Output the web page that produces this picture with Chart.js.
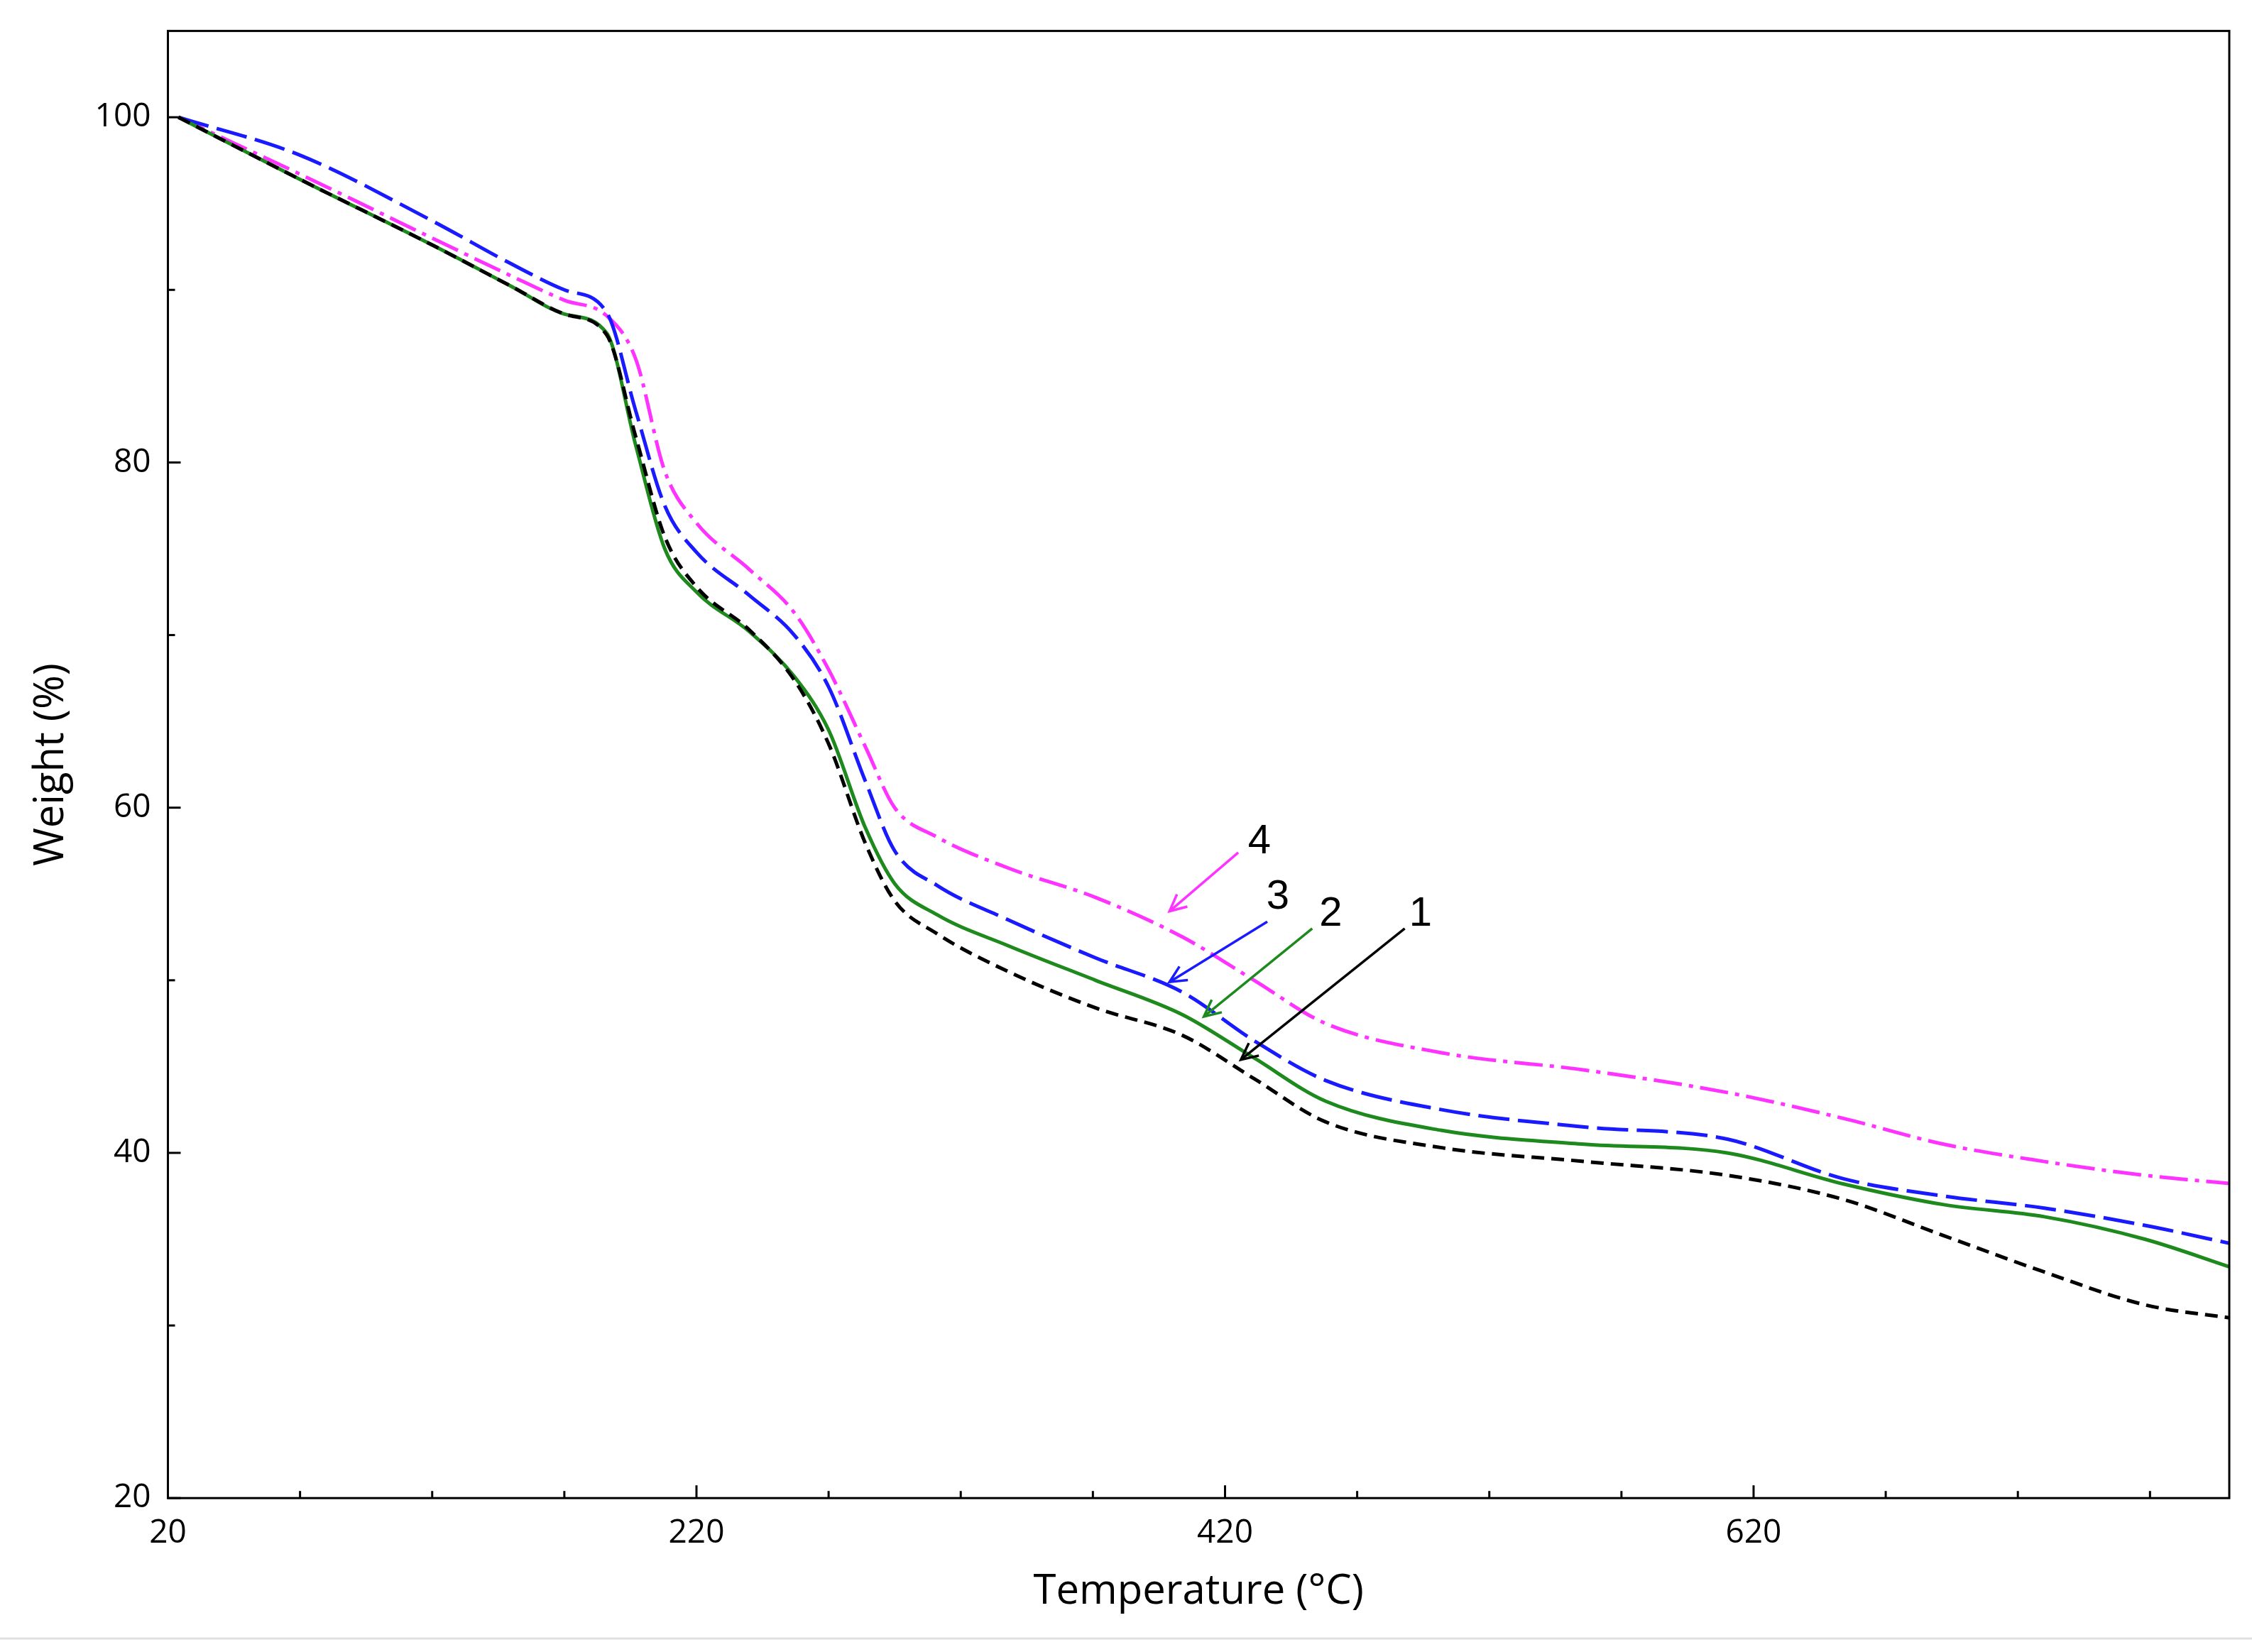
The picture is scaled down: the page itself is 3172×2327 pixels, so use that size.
<!DOCTYPE html>
<html>
<head>
<meta charset="utf-8">
<script src="https://cdn.jsdelivr.net/npm/chart.js@4.4.1/dist/chart.umd.min.js"></script>
<style>
  html, body { margin: 0; padding: 0; background: #fff; }
  #wrap { width: 3172px; height: 2327px; position: relative; }
</style>
</head>
<body>
<div id="wrap"><canvas id="c"></canvas></div>
<script>
const temps = [24, 70, 120, 150, 170, 186, 197, 208, 220, 240, 257, 270, 284, 295, 311, 338, 371, 404, 431, 458, 502, 556, 610, 654, 692, 730, 768, 802];

// Weight (%) for each sample
const sample1 = [100, 96.4, 92.6, 90.2, 88.6, 87.4, 81.5, 75.7, 72.8, 70.3, 67.4, 63.7, 57.9, 54.6, 52.7, 50.5, 48.4, 46.8, 44.3, 41.8, 40.3, 39.5, 38.7, 37.3, 35.2, 33.1, 31.2, 30.4];
const sample2 = [100, 96.4, 92.6, 90.2, 88.6, 87.5, 81, 75, 72.5, 70.2, 67.6, 64.5, 58.8, 55.6, 53.8, 52, 50, 48, 45.5, 43, 41.3, 40.5, 40, 38.2, 37, 36.3, 35, 33.3];
const sample3 = [100, 97.8, 94, 91.5, 90, 88.7, 83, 77.5, 74.8, 72.3, 70, 67, 61.5, 57.5, 55.5, 53.5, 51.3, 49.3, 46.5, 44.2, 42.5, 41.5, 40.8, 38.5, 37.5, 36.8, 35.8, 34.7];
const sample4 = [100, 96.7, 93, 90.8, 89.4, 88.5, 86, 79.5, 76.5, 73.8, 71.3, 68, 63.5, 60, 58.3, 56.5, 54.8, 52.5, 50, 47.5, 45.8, 44.8, 43.5, 42, 40.5, 39.5, 38.7, 38.2];

const xTicks = [20, 70, 120, 170, 220, 270, 320, 370, 420, 470, 520, 570, 620, 670, 720, 770];
const yTicks = [20, 30, 40, 50, 60, 70, 80, 90, 100];

// Arrow annotations: label, color, from [T, W], to [T, W], label position
const arrowLabels = ['4', '3', '2', '1'];
const arrowColors = ['#ff33ff', '#1a1aff', '#1e8a1e', '#000000'];
const arrowFrom = [[425, 57.4], [436, 53.4], [453, 53.0], [488, 53.0]];
const arrowTo = [[399, 54.0], [399, 49.9], [412, 47.9], [426, 45.4]];
const labelAt = [[433, 58.0], [440, 54.8], [460, 53.8], [494, 53.8]];

const pts = (ys) => temps.map((t, i) => ({ x: t, y: ys[i] }));

const frame = {
  id: 'frame',
  afterDraw(chart) {
    const { ctx, chartArea: a, scales: { x, y } } = chart;
    ctx.save();
    ctx.strokeStyle = '#000';
    ctx.lineWidth = 3;
    ctx.strokeRect(a.left, a.top, a.right - a.left, a.bottom - a.top);
    xTicks.forEach(v => {
      const px = x.getPixelForValue(v);
      const len = (v - 20) % 200 === 0 ? 18 : 10;
      ctx.beginPath(); ctx.moveTo(px, a.bottom); ctx.lineTo(px, a.bottom - len); ctx.stroke();
    });
    yTicks.forEach(v => {
      const py = y.getPixelForValue(v);
      const len = v % 20 === 0 ? 18 : 10;
      ctx.beginPath(); ctx.moveTo(a.left, py); ctx.lineTo(a.left + len, py); ctx.stroke();
    });
    // arrows
    arrowLabels.forEach((lab, i) => {
      const x1 = x.getPixelForValue(arrowFrom[i][0]), y1 = y.getPixelForValue(arrowFrom[i][1]);
      const x2 = x.getPixelForValue(arrowTo[i][0]), y2 = y.getPixelForValue(arrowTo[i][1]);
      ctx.strokeStyle = arrowColors[i];
      ctx.lineWidth = 3.5;
      ctx.beginPath(); ctx.moveTo(x1, y1); ctx.lineTo(x2, y2); ctx.stroke();
      const ang = Math.atan2(y2 - y1, x2 - x1);
      const h = 26;
      ctx.beginPath();
      ctx.moveTo(x2 - h * Math.cos(ang - 0.45), y2 - h * Math.sin(ang - 0.45));
      ctx.lineTo(x2, y2);
      ctx.lineTo(x2 - h * Math.cos(ang + 0.45), y2 - h * Math.sin(ang + 0.45));
      ctx.stroke();
      ctx.fillStyle = '#000';
      ctx.font = '58px "Liberation Sans", Arial, sans-serif';
      ctx.textAlign = 'center';
      ctx.textBaseline = 'middle';
      ctx.fillText(lab, x.getPixelForValue(labelAt[i][0]), y.getPixelForValue(labelAt[i][1]));
    });
    // faint rule at the bottom of the figure
    ctx.strokeStyle = '#e0e0e0';
    ctx.lineWidth = 3;
    ctx.beginPath(); ctx.moveTo(0, 2308); ctx.lineTo(3172, 2308); ctx.stroke();
    ctx.restore();
  }
};

const font = { family: '"Open Sans", "Noto Sans", sans-serif', size: 46 };

new Chart(document.getElementById('c'), {
  type: 'line',
  data: {
    datasets: [
      { label: '1', data: pts(sample1), borderColor: '#000000', borderDash: [18, 10] },
      { label: '2', data: pts(sample2), borderColor: '#1e8a1e' },
      { label: '3', data: pts(sample3), borderColor: '#1a1aff', borderDash: [44, 12] },
      { label: '4', data: pts(sample4), borderColor: '#ff33ff', borderDash: [40, 10, 6, 10] },
    ].map(d => Object.assign(d, { borderWidth: 5, pointRadius: 0, cubicInterpolationMode: 'monotone' }))
  },
  options: {
    responsive: true,
    maintainAspectRatio: false,
    animation: false,
    layout: { padding: { top: 20, right: 32, left: 34, bottom: 46 } },
    plugins: { legend: { display: false }, tooltip: { enabled: false } },
    scales: {
      x: {
        type: 'linear', min: 20, max: 800,
        afterBuildTicks: (s) => { s.ticks = xTicks.map(v => ({ value: v })); },
        grid: { display: false },
        border: { display: false },
        ticks: { color: '#000', font, padding: 14, maxRotation: 0, autoSkip: false,
          callback: (v) => (v - 20) % 200 === 0 ? v : '' },
        title: { display: true, text: 'Temperature (°C)', color: '#000', font: { family: font.family, size: 58 }, padding: { top: 6 } }
      },
      y: {
        min: 20, max: 105,
        afterBuildTicks: (s) => { s.ticks = yTicks.map(v => ({ value: v })); },
        grid: { display: false },
        border: { display: false },
        ticks: { color: '#000', font, padding: 16, autoSkip: false,
          callback: (v) => v % 20 === 0 ? v : '' },
        title: { display: true, text: 'Weight (%)', color: '#000', font: { family: font.family, size: 58 }, padding: { bottom: 10 } }
      }
    }
  },
  plugins: [frame]
});
</script>
</body>
</html>
